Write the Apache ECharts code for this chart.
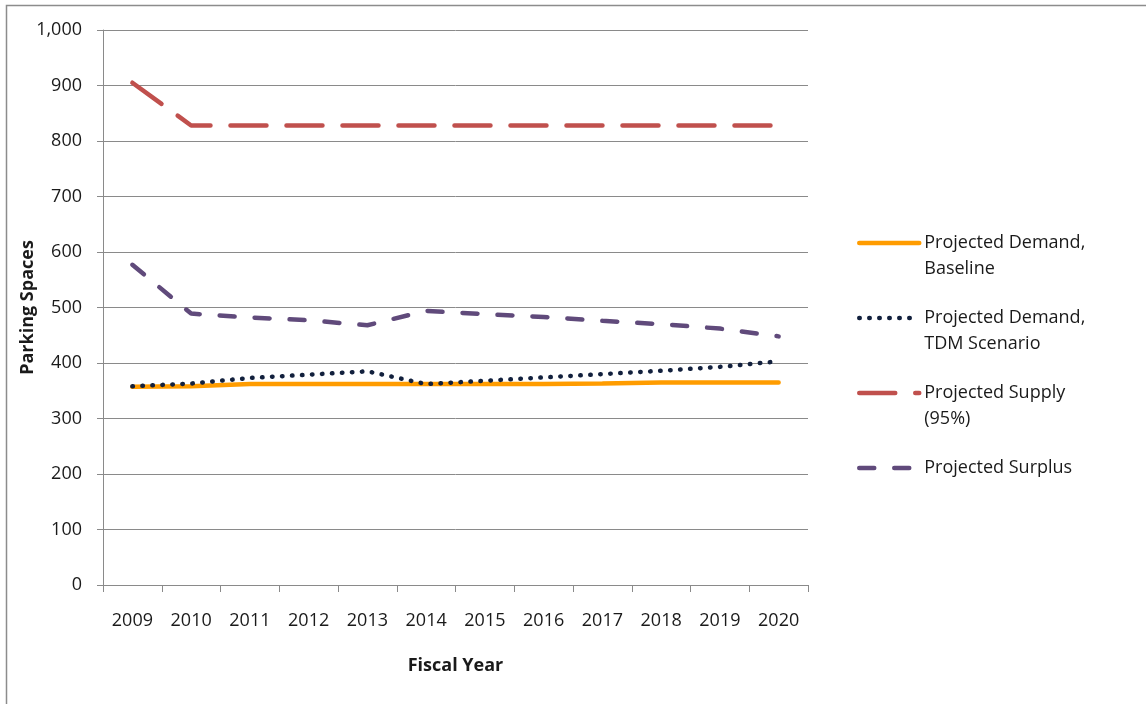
<!DOCTYPE html>
<html>
<head>
<meta charset="utf-8">
<script src="https://cdn.jsdelivr.net/npm/echarts@6/dist/echarts.min.js"></script>
<style>
html,body{margin:0;padding:0;background:#fff;}
#chart{width:1146px;height:704px;}
</style>
</head>
<body>
<div id="chart"></div>
<script>
const years = ['2009','2010','2011','2012','2013','2014','2015','2016','2017','2018','2019','2020'];
const baseline = [357, 358, 362, 362, 362, 362, 362, 362, 363, 365, 365, 365];
const tdm = [358, 363, 373, 379, 385, 362, 368, 374, 380, 386, 393, 403];
const supply = [905, 828, 828, 828, 828, 828, 828, 828, 828, 828, 828, 828];
const surplus = [577, 489, 482, 477, 468, 494, 488, 483, 476, 470, 462, 448];
const seriesNames = ['Projected Demand, Baseline','Projected Demand, TDM Scenario','Projected Supply (95%)','Projected Surplus'];
const legendLabels = ['Projected Demand,\nBaseline','Projected Demand,\nTDM Scenario','Projected Supply\n(95%)','Projected Surplus'];

const FONT = '"Open Sans", "Noto Sans", sans-serif';
const GRID = '#8a8a8a';
const TEXT = '#1a1a1a';

const styles = [
  {color:'#FF9C00', width:4.5, type:'solid', cap:'round'},
  {color:'#12203D', width:4.5, type:[0.5,9.5], cap:'round'},
  {color:'#C0504D', width:4.5, type:[36,20], cap:'round'},
  {color:'#604A7B', width:4.5, type:[15,20], cap:'round'}
];

const chart = echarts.init(document.getElementById('chart'), null, {renderer:'canvas'});

function mkLegend(i, top, twoLine){
  return {
    data:[seriesNames[i]],
    left: 857, top: top, orient:'vertical', padding:0,
    itemWidth:60, itemHeight:14, itemGap:0,
    formatter: n => (twoLine ? '\n' : '') + legendLabels[seriesNames.indexOf(n)],
    itemStyle:{opacity:0},
    lineStyle: Object.assign({}, styles[i]),
    textStyle:{fontFamily:FONT, fontSize:18, color:TEXT, lineHeight:26},
    selectedMode:false
  };
}

const option = {
  animation:false,
  backgroundColor:'#fff',
  graphic:[{type:'rect', shape:{x:6.5,y:5.5,width:1160,height:720}, style:{fill:'none', stroke:'#8c8c8c', lineWidth:1.5}, silent:true, z:-1}],
  grid:{left:103, right:338, top:30, bottom:119},
  legend:[mkLegend(0,204,true), mkLegend(1,279,true), mkLegend(2,354,true), mkLegend(3,455,false)],
  xAxis:{
    type:'category', data:years, boundaryGap:true,
    name:'Fiscal Year', nameLocation:'middle', nameGap:72,
    nameTextStyle:{fontFamily:FONT, fontSize:18, fontWeight:'bold', color:TEXT},
    axisLine:{lineStyle:{color:GRID, width:1}},
    axisTick:{show:true, length:7, lineStyle:{color:GRID}},
    axisLabel:{fontFamily:FONT, fontSize:18, color:TEXT, margin:27, interval:0},
    splitLine:{show:false}
  },
  yAxis:{
    type:'value', min:0, max:1000, interval:100,
    name:'Parking Spaces', nameLocation:'middle', nameGap:66, nameRotate:90,
    nameMoveOverlap:false,
    nameTextStyle:{fontFamily:FONT, fontSize:18, fontWeight:'bold', color:TEXT},
    axisLine:{show:true, lineStyle:{color:GRID, width:1}},
    axisTick:{show:true, length:6, lineStyle:{color:GRID}},
    axisLabel:{fontFamily:FONT, fontSize:18, color:TEXT, margin:21,
      formatter: v => v.toLocaleString('en-US')},
    splitLine:{show:true, lineStyle:{color:GRID, width:1}}
  },
  series:[
    {name:seriesNames[0], type:'line', data:baseline, symbol:'none', z:3,
      lineStyle:styles[0], itemStyle:{color:styles[0].color}},
    {name:seriesNames[1], type:'line', data:tdm, symbol:'none', z:4,
      lineStyle:styles[1], itemStyle:{color:styles[1].color}},
    {name:seriesNames[2], type:'line', data:supply, symbol:'none', z:3,
      lineStyle:styles[2], itemStyle:{color:styles[2].color}},
    {name:seriesNames[3], type:'line', data:surplus, symbol:'none', z:3,
      lineStyle:styles[3], itemStyle:{color:styles[3].color}}
  ]
};
chart.setOption(option);
</script>
</body>
</html>
